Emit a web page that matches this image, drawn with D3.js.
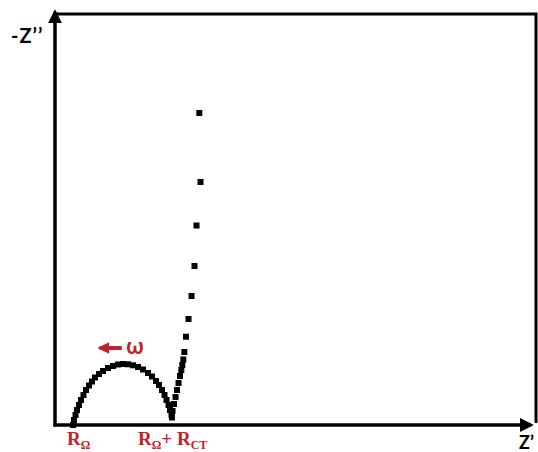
<!DOCTYPE html>
<html>
<head>
<meta charset="utf-8">
<script src="https://cdn.jsdelivr.net/npm/d3@7"></script>
<style>
  body { margin: 0; background: #fff; }
  svg { display: block; }
</style>
</head>
<body>
<svg id="nyquist"></svg>
<script>
// Nyquist plot values (Z' and -Z'' in arbitrary units)
var zReal = [4.5, 4.75, 5.13, 5.5, 6.0, 6.5, 7.13, 7.75, 8.5, 9.25, 10.0, 11.0, 12.0, 13.25, 14.5,
  15.75, 17.0, 18.25, 19.5, 20.75, 22.0, 23.25, 24.25, 25.25, 26.0, 26.75, 27.38, 27.88, 28.38,
  28.75, 29.13, 29.25, 29.38, 29.75, 30.13, 30.5, 30.88, 31.25, 31.58, 31.83, 32.08, 32.33,
  32.75, 33.38, 34.13, 34.88, 35.38, 36.38, 36.08];
var zImag = [0, 1.22, 2.43, 3.65, 4.87, 6.08, 7.30, 8.52, 9.61, 10.58, 11.56, 12.41, 13.14, 13.87, 14.36,
  14.72, 14.84, 14.77, 14.53, 14.11, 13.50, 12.65, 11.80, 10.71, 9.73, 8.52, 7.30, 6.08, 4.87,
  3.65, 2.43, 1.82, 3.41, 5.11, 6.81, 8.52, 10.22, 11.92, 13.38, 14.60, 15.94, 17.76,
  21.48, 25.79, 31.39, 38.69, 48.54, 59.12, 75.91];
var rOhm = 4.5;        // R_Ω intercept
var rOhmRct = 29.25;   // R_Ω + R_CT

var width = 538, height = 452;
var svg = d3.select("#nyquist").attr("width", width).attr("height", height);

var red = "#c3202a";

//scales
var x = d3.scaleLinear().domain([0, 120]).range([55, 535]);
var y = d3.scaleLinear().domain([0, 100]).range([425, 14]);

// arrowheads
var defs = svg.append("defs");
defs.append("marker")
  .attr("id", "arrowBlack")
  .attr("viewBox", "0 0 10 10")
  .attr("refX", 8).attr("refY", 5)
  .attr("markerWidth", 4).attr("markerHeight", 4)
  .attr("orient", "auto")
  .append("path").attr("d", "M0,0 L10,5 L0,10 z").attr("fill", "#000");
defs.append("marker")
  .attr("id", "arrowRed")
  .attr("viewBox", "0 0 10 10")
  .attr("refX", 8).attr("refY", 5)
  .attr("markerWidth", 3).attr("markerHeight", 3)
  .attr("orient", "auto")
  .append("path").attr("d", "M0,0 L10,5 L0,10 z").attr("fill", red);

// frame: top and right sides
svg.append("path")
  .attr("d", "M" + x(0) + "," + y(100) + " H" + (x(120) + 1) + " V" + (y(0) - 2))
  .attr("fill", "none")
  .attr("stroke", "#000")
  .attr("stroke-width", 3);

// axes without ticks
svg.append("line")
  .attr("x1", x(0)).attr("y1", y(0) + 1.5)
  .attr("x2", x(0)).attr("y2", y(100) - 2)
  .attr("stroke", "#000").attr("stroke-width", 3.5)
  .attr("marker-end", "url(#arrowBlack)");
svg.append("line")
  .attr("x1", x(0) - 1.5).attr("y1", y(0))
  .attr("x2", x(119)).attr("y2", y(0))
  .attr("stroke", "#000").attr("stroke-width", 3.5)
  .attr("marker-end", "url(#arrowBlack)");

// axis titles
svg.append("text")
  .attr("x", 11).attr("y", 43)
  .attr("font-family", "Lato, 'Open Sans', sans-serif")
  .attr("font-weight", "bold")
  .attr("font-size", 20)
  .attr("letter-spacing", 1)
  .text("-Z\u2019\u2019");
svg.append("text")
  .attr("x", 519).attr("y", 449)
  .attr("font-family", "Lato, 'Open Sans', sans-serif")
  .attr("font-weight", "bold")
  .attr("font-size", 18)
  .text("Z\u2019");

// data points
svg.selectAll("rect.pt")
  .data(zReal)
  .enter()
  .append("rect")
  .attr("class", "pt")
  .attr("x", function (d) { return x(d) - 3; })
  .attr("y", function (d, i) { return y(zImag[i]) - 3; })
  .attr("width", 6)
  .attr("height", 6)
  .attr("fill", "#000");

// intercept labels
var lab = svg.append("g")
  .attr("fill", red)
  .attr("font-family", "'Liberation Serif', serif")
  .attr("font-weight", "bold");

var t1 = lab.append("text").attr("x", x(rOhm) - 6).attr("y", 445).attr("font-size", 19);
t1.append("tspan").text("R");
t1.append("tspan").attr("font-size", 12).attr("dy", 4).text("\u03A9");

var t2 = lab.append("text").attr("x", x(rOhmRct) - 34).attr("y", 445).attr("font-size", 19);
t2.append("tspan").text("R");
t2.append("tspan").attr("font-size", 12).attr("dy", 4).text("\u03A9");
t2.append("tspan").attr("dy", -4).text("+ R");
t2.append("tspan").attr("font-size", 12).attr("dy", 4).text("CT");

// frequency direction arrow
svg.append("line")
  .attr("x1", x(16.7)).attr("y1", 348)
  .attr("x2", x(11.2)).attr("y2", 348)
  .attr("stroke", red).attr("stroke-width", 4)
  .attr("marker-end", "url(#arrowRed)");
svg.append("text")
  .attr("x", x(17.8)).attr("y", 354)
  .attr("fill", red)
  .attr("font-family", "Lato, 'Open Sans', sans-serif")
  .attr("font-weight", "bold")
  .attr("font-size", 22)
  .text("\u03C9");
</script>
</body>
</html>
